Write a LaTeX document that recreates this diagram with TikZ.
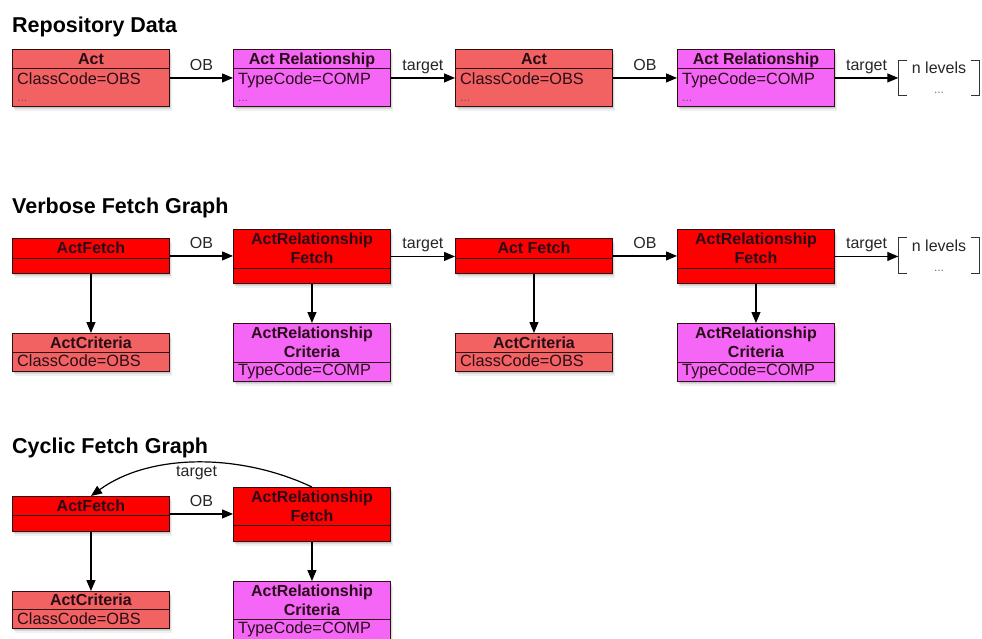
\documentclass[tikz,border=0pt]{standalone}
\usepackage{fontspec}
\setmainfont{Liberation Sans}
\usetikzlibrary{arrows.meta,shadows,calc}

\definecolor{salmon}{RGB}{242,98,98}
\definecolor{fetchred}{RGB}{255,0,0}
\definecolor{magent}{RGB}{246,102,246}
\definecolor{edgec}{RGB}{45,15,20}
\definecolor{txt}{RGB}{40,12,24}

\tikzset{
 boxbase/.style={draw=edgec, line width=0.9pt, inner sep=0pt, anchor=north west,
   drop shadow={shadow xshift=3pt, shadow yshift=-5pt, opacity=0.12},
   drop shadow={shadow xshift=2pt, shadow yshift=-3pt, opacity=0.2},
   drop shadow={shadow xshift=1pt, shadow yshift=-1.5pt, opacity=0.2}},
 actbox/.style={boxbase, fill=salmon},
 relbox/.style={boxbase, fill=magent},
 fetchbox/.style={boxbase, fill=fetchred},
 hdr/.style={font=\fontsize{16}{19}\selectfont\bfseries, text=txt, align=center, inner sep=0pt, text depth=0pt},
 body/.style={font=\fontsize{16.3}{18}\selectfont, text=txt, anchor=base west, inner sep=0pt},
 dotsty/.style={font=\fontsize{12}{12}\selectfont, text=txt!70, anchor=base west, inner sep=0pt},
 sepline/.style={draw=edgec, line width=0.8pt},
 arr/.style={draw=black, line width=1.2pt, -{Triangle[length=11pt,width=9pt]}},
 lbl/.style={font=\fontsize{16}{18}\selectfont, text=black!85, text height=11pt, text depth=3pt, inner sep=1pt},
 title/.style={font=\fontsize{21.5}{24}\selectfont\bfseries, anchor=base west, inner sep=0pt},
 lvl/.style={font=\fontsize{16}{19}\selectfont, align=center, minimum width=81pt, minimum height=35pt, inner sep=0pt, text=black!85},
 brk/.style={draw=black!80, line width=1pt},
}

\newcommand{\mkbox}[8]{%
 \node[#1, minimum width=#5pt, minimum height=#6pt] (#2) at (#3,#4) {};
 \draw[sepline] ($(#2.north west)+(0,#7)$) -- ($(#2.north east)+(0,#7)$);
 \node[hdr] at ($(#2.north)+(0,#7/2)$) {#8};
}
\newcommand{\mkbracket}[1]{%
 \draw[brk] ($(#1.north west)+(9,0)$) -- (#1.north west) -- (#1.south west) -- ++(9,0);
 \draw[brk] ($(#1.north east)+(-9,0)$) -- (#1.north east) -- (#1.south east) -- ++(-9,0);
}

\begin{document}
\begin{tikzpicture}[x=1pt,y=-1pt]
\useasboundingbox (0,0) rectangle (982,638);

% ---------- Titles
\node[title] (t1) at (12,32) {Repository Data};
\node[title] (t2) at (12,213) {Verbose Fetch Graph};
\node[title] (t3) at (12,453) {Cyclic Fetch Graph};

% ---------- Row 1: Repository Data
\mkbox{actbox}{act1}{12}{49}{157}{57}{19}{Act}
\node[body] at ($(act1.north west)+(5,35)$) {ClassCode=OBS};
\node[dotsty] at ($(act1.north west)+(5,52)$) {...};

\mkbox{relbox}{ar1}{233}{49}{157}{57}{19}{Act Relationship}
\node[body] at ($(ar1.north west)+(5,35)$) {TypeCode=COMP};
\node[dotsty] at ($(ar1.north west)+(5,52)$) {...};

\mkbox{actbox}{act2}{455}{49}{157}{57}{19}{Act}
\node[body] at ($(act2.north west)+(5,35)$) {ClassCode=OBS};
\node[dotsty] at ($(act2.north west)+(5,52)$) {...};

\mkbox{relbox}{ar2}{677}{49}{157}{57}{19}{Act Relationship}
\node[body] at ($(ar2.north west)+(5,35)$) {TypeCode=COMP};
\node[dotsty] at ($(ar2.north west)+(5,52)$) {...};

\node[lvl] (lv1) at (939,78) {n levels\\[1pt]{\color{black!55}\fontsize{12}{12}\selectfont ...}};
\mkbracket{lv1}

\draw[arr] (act1.east) -- node[lbl, above=3pt] {OB} (ar1.west);
\draw[arr] (ar1.east) -- node[lbl, above=3pt] {target} (act2.west);
\draw[arr] (act2.east) -- node[lbl, above=3pt] {OB} (ar2.west);
\draw[arr] (ar2.east) -- node[lbl, above=3pt] {target} (ar2.east -| lv1.west);

% ---------- Row 2: Verbose Fetch Graph
\mkbox{fetchbox}{af1}{12}{238}{157}{35}{20}{ActFetch}
\mkbox{fetchbox}{arf1}{233}{229}{157}{54}{39}{ActRelationship\\Fetch}
\mkbox{actbox}{ac1}{12}{333}{157}{38}{19}{ActCriteria}
\node[body] at ($(ac1.north west)+(5,33)$) {ClassCode=OBS};
\mkbox{relbox}{arc1}{233}{323}{157}{58}{39}{ActRelationship\\Criteria}
\node[body] at ($(arc1.north west)+(5,52)$) {TypeCode=COMP};

\mkbox{fetchbox}{af2}{455}{238}{157}{35}{20}{Act Fetch}
\mkbox{fetchbox}{arf2}{677}{229}{157}{54}{39}{ActRelationship\\Fetch}
\mkbox{actbox}{ac2}{455}{333}{157}{38}{19}{ActCriteria}
\node[body] at ($(ac2.north west)+(5,33)$) {ClassCode=OBS};
\mkbox{relbox}{arc2}{677}{323}{157}{58}{39}{ActRelationship\\Criteria}
\node[body] at ($(arc2.north west)+(5,52)$) {TypeCode=COMP};

\node[lvl] (lv2) at (939,255.5) {n levels\\[1pt]{\color{black!55}\fontsize{12}{12}\selectfont ...}};
\mkbracket{lv2}

\draw[arr] (af1.east) -- node[lbl, above=3pt] {OB} (af1.east -| arf1.west);
\draw[arr] (arf1.east) -- node[lbl, above=3pt] {target} (arf1.east -| af2.west);
\draw[arr] (af2.east) -- node[lbl, above=3pt] {OB} (af2.east -| arf2.west);
\draw[arr] (arf2.east) -- node[lbl, above=3pt] {target} (arf2.east -| lv2.west);
\draw[arr] (af1.south) -- (ac1.north);
\draw[arr] (arf1.south) -- (arc1.north);
\draw[arr] (af2.south) -- (ac2.north);
\draw[arr] (arf2.south) -- (arc2.north);

% ---------- Row 3: Cyclic Fetch Graph
\mkbox{fetchbox}{af3}{12}{496}{157}{35}{19}{ActFetch}
\mkbox{fetchbox}{arf3}{233}{487}{157}{54}{38}{ActRelationship\\Fetch}
\mkbox{actbox}{ac3}{12}{591}{157}{37}{18}{ActCriteria}
\node[body] at ($(ac3.north west)+(5,33)$) {ClassCode=OBS};
\mkbox{relbox}{arc3}{233}{581}{157}{58}{38}{ActRelationship\\Criteria}
\node[body] at ($(arc3.north west)+(5,52)$) {TypeCode=COMP};

\draw[arr] (af3.east) -- node[lbl, above=3pt] {OB} (af3.east -| arf3.west);
\draw[arr] (af3.south) -- (ac3.north);
\draw[arr] (arf3.south) -- (arc3.north);
\draw[arr] (arf3.north) .. controls (240,453) and (150,453) .. node[lbl, pos=0.5, below=1pt] {target} (af3.north);
\end{tikzpicture}
\end{document}
